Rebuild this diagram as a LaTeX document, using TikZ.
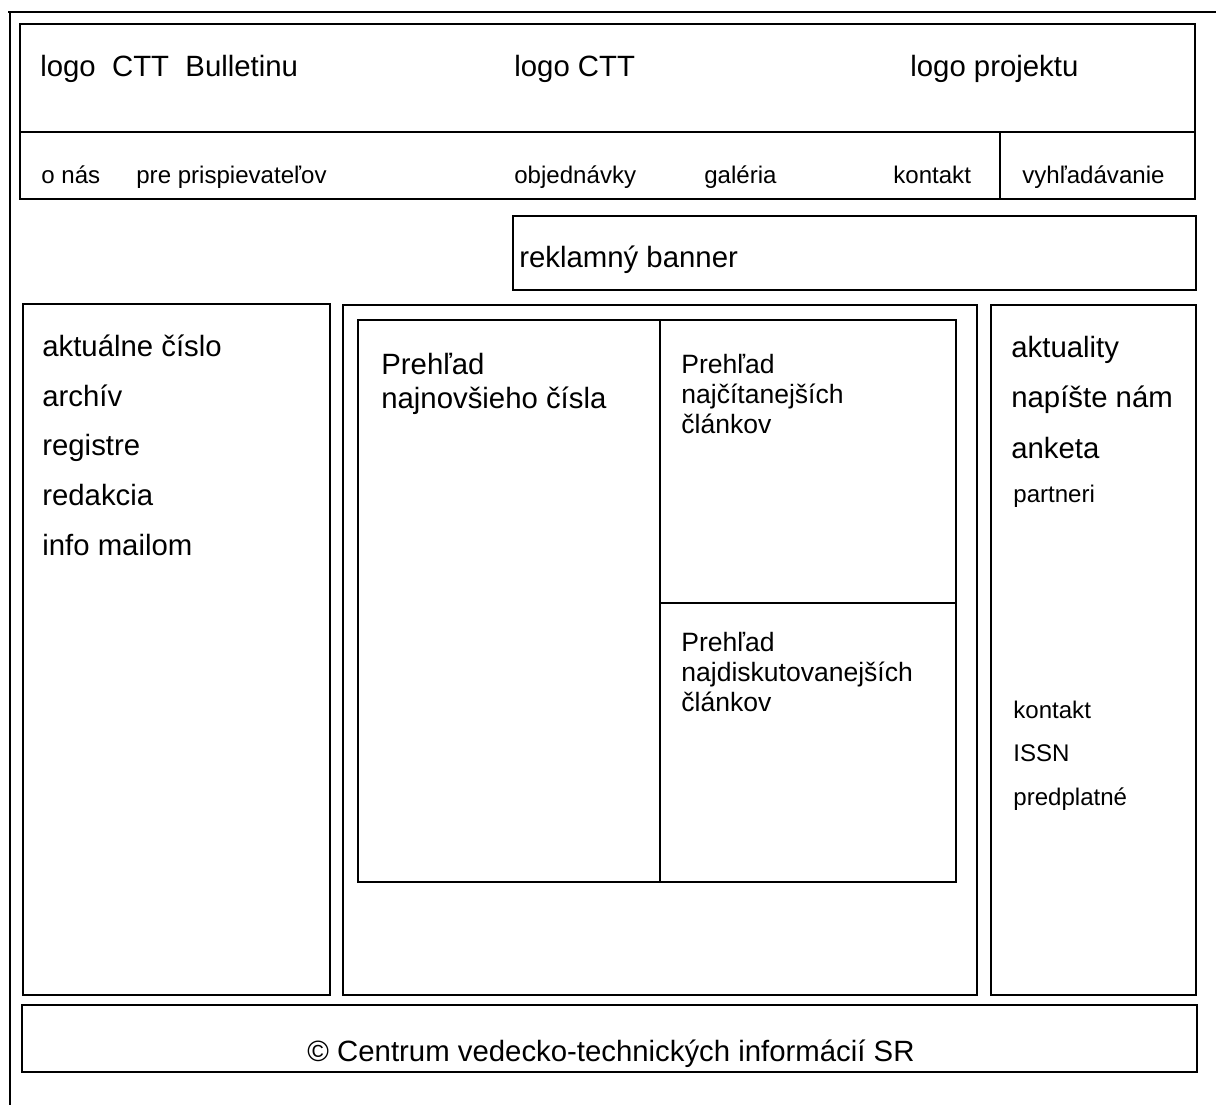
\documentclass[tikz,border=0pt]{standalone}
\usepackage{fontspec}
\setmainfont{Liberation Sans}
\tikzset{
  sheet/.style={line width=0.9pt},
  wbox/.style={line width=1.4pt},
  thinline/.style={line width=1pt},
  bigtxt/.style={anchor=base west, inner sep=0pt, font=\fontsize{16.7}{20}\selectfont},
  midtxt/.style={anchor=base west, inner sep=0pt, font=\fontsize{15.1}{18}\selectfont},
  smalltxt/.style={anchor=base west, inner sep=0pt, font=\fontsize{13.7}{16}\selectfont}
}
\begin{document}
\begin{tikzpicture}[x=0.02cm,y=-0.02cm]
\useasboundingbox (0,0) rectangle (1216,1105);
% sheet edges
\draw [sheet](8,12) -- (1216,12);
\draw [sheet](10,12) -- (10,1105);
% header with logos and menu
\draw [wbox](20,24) rectangle (1195,199);
\draw [wbox](20,132) -- (1195,132);
\draw [wbox](1000,132) -- (1000,199);
\node [bigtxt] (logobull) at (40,77) {logo\ \ CTT\ \ Bulletinu};
\node [bigtxt] (logoctt) at (514,77) {logo CTT};
\node [bigtxt] (logoproj) at (910,77) {logo projektu};
\node [smalltxt] (onas) at (41,183) {o nás};
\node [smalltxt] (prisp) at (136,183) {pre prispievateľov};
\node [smalltxt] (objed) at (514,183) {objednávky};
\node [smalltxt] (galeria) at (704,183) {galéria};
\node [smalltxt] (kontaktm) at (893,183) {kontakt};
\node [smalltxt] (hladat) at (1022,183) {vyhľadávanie};
% banner
\draw [wbox](513,216) rectangle (1196,290);
\node [bigtxt] (banner) at (519,267) {reklamný banner};
% left column
\draw [wbox](23,304) rectangle (330,995);
\node [bigtxt] (aktcislo) at (42,356) {aktuálne číslo};
\node [bigtxt] (archiv) at (42,406) {archív};
\node [bigtxt] (registre) at (42,455) {registre};
\node [bigtxt] (redakcia) at (42,505) {redakcia};
\node [bigtxt] (infomail) at (42,555) {info mailom};
% middle column
\draw [wbox](343,305) rectangle (977,995);
\draw [wbox](358,320) rectangle (956,882);
\draw [thinline](660,320) -- (660,882);
\draw [thinline](660,603) -- (956,603);
\node [bigtxt] (prehl1) at (381,374) {Prehľad};
\node [bigtxt] (najnov) at (381,408) {najnovšieho čísla};
\node [midtxt] (prehl2) at (681,373) {Prehľad};
\node [midtxt] (najcit) at (681,403) {najčítanejších};
\node [midtxt] (clank2) at (681,433) {článkov};
\node [midtxt] (prehl3) at (681,651) {Prehľad};
\node [midtxt] (najdisk) at (681,681) {najdiskutovanejších};
\node [midtxt] (clank3) at (681,711) {článkov};
% right column
\draw [wbox](991,305) rectangle (1196,995);
\node [bigtxt] (aktuality) at (1011,357) {aktuality};
\node [bigtxt] (napiste) at (1011,407) {napíšte nám};
\node [bigtxt] (anketa) at (1011,458) {anketa};
\node [smalltxt] (partneri) at (1013,502) {partneri};
\node [smalltxt] (kontaktr) at (1013,718) {kontakt};
\node [smalltxt] (issn) at (1013,761) {ISSN};
\node [smalltxt] (predpl) at (1013,805) {predplatné};
% footer
\draw [wbox](22,1005) rectangle (1197,1072);
\node [bigtxt, anchor=base] (copy) at (611,1061) {© Centrum vedecko-technických informácií SR};
\end{tikzpicture}
\end{document}
